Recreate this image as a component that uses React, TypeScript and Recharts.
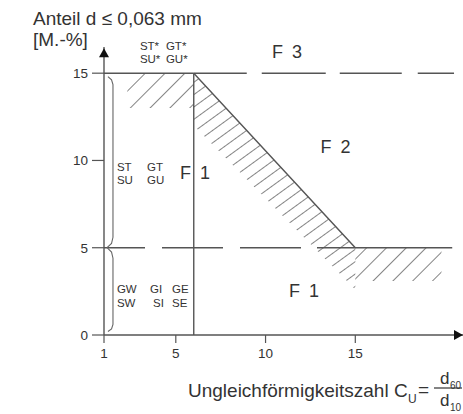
import React from 'react'
import { ComposedChart, Line, Area, XAxis, YAxis, ReferenceDot } from 'recharts'

const FONT = '"Liberation Sans", Arial, Helvetica, sans-serif'
const INK = '#333'
const LINE = '#555'

const xTicks = [1, 5, 10, 15]
const yTicks = [0, 5, 10, 15]

// boundary lines of the F1 / F2 / F3 fields
const upperSolid = [{ x: 1, y: 15 }, { x: 6, y: 15 }]
const upperDashed = [{ x: 6, y: 15 }, { x: 20.5, y: 15 }]
const middleDashed = [{ x: 1, y: 5 }, { x: 15, y: 5 }]
const boundary = [{ x: 6, y: 15 }, { x: 15, y: 5 }, { x: 20.4, y: 5 }]
const divider = [{ x: 6, y: 0 }, { x: 6, y: 15 }]

// curly braces next to the y axis
const braceUpper = [
  { x: 1.22, y: 14.8 }, { x: 1.42, y: 14.62 }, { x: 1.5, y: 14.35 },
  { x: 1.5, y: 5.6 }, { x: 1.42, y: 5.25 }, { x: 1.17, y: 5 },
]
const braceLower = [
  { x: 1.17, y: 5 }, { x: 1.42, y: 4.75 }, { x: 1.5, y: 4.4 },
  { x: 1.5, y: 0.6 }, { x: 1.42, y: 0.35 }, { x: 1.22, y: 0.2 },
]

// hatched bands [low, high]
const hatchTopLeft = [{ x: 2.3, r: [13, 15] }, { x: 6, r: [13, 15] }]
const hatchDiagonal = [{ x: 6, r: [12, 15] }, { x: 15, r: [2.6, 5] }]
const hatchFlat = [{ x: 15, r: [3.1, 5] }, { x: 19.8, r: [3.1, 5] }]

const fieldLabels = [
  { x: 11.2, y: 16.2, text: 'F 3' },
  { x: 13.9, y: 10.77, text: 'F 2' },
  { x: 6.07, y: 9.28, text: 'F 1' },
  { x: 12.14, y: 2.52, text: 'F 1' },
]

const soilLabels = [
  { x: 3.0, y: 16.56, text: 'ST*' }, { x: 4.45, y: 16.56, text: 'GT*' },
  { x: 3.0, y: 15.82, text: 'SU*' }, { x: 4.45, y: 15.82, text: 'GU*' },
  { x: 1.72, y: 9.63, text: 'ST' }, { x: 3.4, y: 9.63, text: 'GT' },
  { x: 1.72, y: 8.88, text: 'SU' }, { x: 3.4, y: 8.88, text: 'GU' },
  { x: 1.72, y: 2.64, text: 'GW' }, { x: 3.56, y: 2.64, text: 'GI' }, { x: 4.79, y: 2.64, text: 'GE' },
  { x: 1.72, y: 1.83, text: 'SW' }, { x: 3.73, y: 1.83, text: 'SI' }, { x: 4.79, y: 1.83, text: 'SE' },
]

const arrows = [
  { x: 1, y: 16.43, dir: 'up' },
  { x: 21, y: 0, dir: 'right' },
]

function YTitle() {
  return (
    <g fill={INK} fontFamily={FONT} fontSize={19}>
      <text x={33} y={25}>Anteil d ≤ 0,063 mm</text>
      <text x={33} y={46}>[M.-%]</text>
    </g>
  )
}

function XTitle() {
  return (
    <g fill={INK} fontFamily={FONT}>
      <text x={188} y={397} fontSize={19}>Ungleichförmigkeitszahl C</text>
      <text x={408} y={403} fontSize={12}>U</text>
      <text x={418} y={396} fontSize={19}>=</text>
      <line x1={434} x2={462} y1={388} y2={388} stroke={INK} strokeWidth={1.2} />
      <text x={440} y={384} fontSize={17}>d</text>
      <text x={450} y={389} fontSize={10}>60</text>
      <text x={440} y={406} fontSize={17}>d</text>
      <text x={450} y={411} fontSize={10}>10</text>
    </g>
  )
}

const lineProps = {
  type: 'linear' as const,
  dataKey: 'y',
  stroke: LINE,
  strokeWidth: 1.4,
  dot: false,
  activeDot: false,
  isAnimationActive: false,
}

export default function App() {
  return (
    <div style={{ position: 'absolute', left: 0, top: 0, width: 463, height: 414, background: '#fff' }}>
      <svg width={0} height={0} style={{ position: 'absolute' }}>
        <defs>
          <pattern id="hatchWide" width={14} height={14} patternUnits="userSpaceOnUse" patternTransform="rotate(45)">
            <line x1={0} y1={0} x2={0} y2={14} stroke="#5a5a5a" strokeWidth={1.5} />
          </pattern>
          <pattern id="hatchDense" width={10} height={10} patternUnits="userSpaceOnUse" patternTransform="rotate(54)">
            <line x1={0} y1={0} x2={0} y2={10} stroke="#5a5a5a" strokeWidth={1.5} />
          </pattern>
        </defs>
      </svg>
      <ComposedChart width={463} height={414} margin={{ top: 47, right: 0, bottom: 0, left: 0 }}>
        <XAxis
          type="number"
          dataKey="x"
          domain={[1, 21]}
          ticks={xTicks}
          interval={0}
          height={79}
          tickSize={8}
          tickMargin={5}
          axisLine={{ stroke: LINE, strokeWidth: 1.4 }}
          tickLine={{ stroke: LINE, strokeWidth: 1.2 }}
          tick={{ fill: INK, fontSize: 13.5, fontFamily: FONT }}
          label={<XTitle />}
        />
        <YAxis
          type="number"
          domain={[0, 16.5]}
          ticks={yTicks}
          interval={0}
          width={104}
          tickSize={12}
          tickMargin={4}
          axisLine={{ stroke: LINE, strokeWidth: 1.4 }}
          tickLine={{ stroke: LINE, strokeWidth: 1.2 }}
          tick={{ fill: INK, fontSize: 13.5, fontFamily: FONT }}
          label={<YTitle />}
        />

        <Area data={hatchTopLeft} dataKey="r" type="linear" stroke="none" fill="url(#hatchWide)" fillOpacity={1} isAnimationActive={false} />
        <Area data={hatchDiagonal} dataKey="r" type="linear" stroke="none" fill="url(#hatchDense)" fillOpacity={1} isAnimationActive={false} />
        <Area data={hatchFlat} dataKey="r" type="linear" stroke="none" fill="url(#hatchWide)" fillOpacity={1} isAnimationActive={false} />

        <Line data={upperSolid} {...lineProps} />
        <Line data={upperDashed} {...lineProps} strokeDasharray="53 15 64 14 62 16 40" />
        <Line data={middleDashed} {...lineProps} strokeDasharray="41 17 61 17 61 16 100" />
        <Line data={boundary} {...lineProps} />
        <Line data={divider} {...lineProps} />
        <Line data={braceUpper} {...lineProps} stroke="#666" strokeWidth={1.1} />
        <Line data={braceLower} {...lineProps} stroke="#666" strokeWidth={1.1} />

        {arrows.map((a) => (
          <ReferenceDot
            key={a.dir}
            x={a.x}
            y={a.y}
            ifOverflow="visible"
            shape={(p: any) =>
              a.dir === 'up' ? (
                <polygon points={`${p.cx},${p.cy} ${p.cx - 5},${p.cy + 9} ${p.cx + 5},${p.cy + 9}`} fill="#111" />
              ) : (
                <polygon points={`${p.cx},${p.cy} ${p.cx - 9},${p.cy - 5} ${p.cx - 9},${p.cy + 5}`} fill="#111" />
              )
            }
          />
        ))}

        {fieldLabels.map((l, i) => (
          <ReferenceDot
            key={'f' + i}
            x={l.x}
            y={l.y}
            ifOverflow="visible"
            shape={(p: any) => (
              <text x={p.cx} y={p.cy} textAnchor="middle" dominantBaseline="central" fill={INK} fontFamily={FONT} fontSize={18} style={{ wordSpacing: 4 }}>
                {l.text}
              </text>
            )}
          />
        ))}

        {soilLabels.map((l, i) => (
          <ReferenceDot
            key={'s' + i}
            x={l.x}
            y={l.y}
            ifOverflow="visible"
            shape={(p: any) => (
              <text x={p.cx} y={p.cy} textAnchor="start" dominantBaseline="central" fill={INK} fontFamily={FONT} fontSize={11.5}>
                {l.text}
              </text>
            )}
          />
        ))}
      </ComposedChart>
    </div>
  )
}
